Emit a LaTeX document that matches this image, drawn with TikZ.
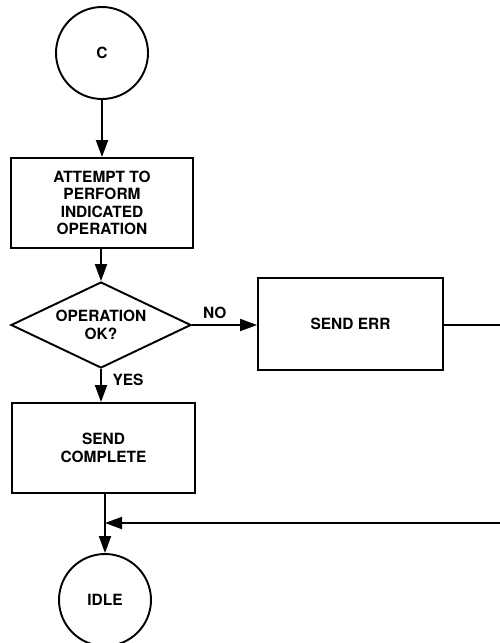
\documentclass[tikz,border=0pt]{standalone}
\usepackage{fontspec}
\setmainfont{TeX Gyre Heros}
\usetikzlibrary{shapes.geometric,arrows.meta}

\begin{document}
\begin{tikzpicture}
            [line width=1.1pt,
            every node/.style={font=\bfseries\fontsize{8.8}{9.9}\selectfont, align=center},
            term/.style={circle, draw, minimum size=1.84cm, inner sep=0pt},
            proc/.style={rectangle, draw, minimum width=3.64cm, minimum height=1.8cm, inner sep=0pt},
            test/.style={diamond, draw, minimum width=3.6cm, minimum height=1.72cm, inner sep=0pt},
            flow/.style={-{Triangle[length=0.34cm, width=0.24cm]}},
            lbl/.style={inner sep=1pt}]

            \useasboundingbox (0,0) rectangle (10,-12.86);

            \node[term] (c) at (2.04,-1.06) {C};
            \node[proc] (attempt) at (2.04,-4.06) {ATTEMPT TO\\PERFORM\\INDICATED\\OPERATION};
            \node[test] (opok) at (2.02,-6.5) {};
            \node at (opok) {OPERATION\\OK?};
            \node[proc, minimum width=3.7cm, minimum height=1.84cm] (senderr) at (7.01,-6.48) {SEND ERR};
            \node[proc, minimum width=3.66cm] (complete) at (2.07,-8.96) {SEND\\COMPLETE};
            \node[term] (idle) at (2.1,-12.0) {IDLE};

            % ends at the right edge
            \coordinate (errout) at (10,-6.5);
            \coordinate (errin) at (10,-10.46);
            \coordinate (join) at (2.1,-10.46);

            % main flow
            \draw[flow] (c) -- (attempt);
            \draw[flow] (attempt.south -| opok.north) -- (opok.north);
            \draw[flow] (opok.east) -- (opok.east -| senderr.west) node[lbl, pos=0.35, above=2pt] {NO};
            \draw[flow] (opok.south) -- (complete.north -| opok.south) node[lbl, pos=0.32, right=5pt] {YES};
            \draw[flow] (complete.south -| idle.north) -- (idle.north);

            % error path
            \draw (senderr.east |- errout) -- (errout);
            \draw[flow] (errin) -- (join);

        \end{tikzpicture}
\end{document}
